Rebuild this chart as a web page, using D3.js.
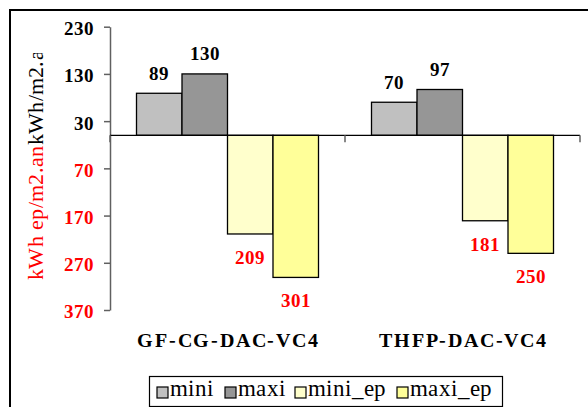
<!DOCTYPE html>
<html><head><meta charset="utf-8">
<script src="https://cdn.jsdelivr.net/npm/d3@7"></script>
<style>
@font-face{font-family:"RefSerif";font-weight:400;src:local("Liberation Serif"),local("LiberationSerif"),local("Liberation Serif Regular"),local("Times New Roman");}
@font-face{font-family:"RefSerif";font-weight:700;src:local("Liberation Serif Bold"),local("LiberationSerif-Bold"),local("Times New Roman Bold");}
</style>
</head><body style="margin:0">
<svg id="c" width="588" height="407"></svg>
<script>
// ---- data ----
const categories = ["GF-CG-DAC-VC4", "THFP-DAC-VC4"];
const seriesNames = ["mini", "maxi", "mini_ep", "maxi_ep"];
const mini = [89, 70];
const maxi = [130, 97];
const mini_ep = [209, 181];
const maxi_ep = [301, 250];
const seriesDirection = [1, 1, -1, -1]; // ep series are drawn below zero
const tickValues = [230, 130, 30, -70, -170, -270, -370];
const yTitleParts = ["kWh ep/m2.an", "kWh/m2.a"];

// ---- styles / layout ----
const seriesColors = ["#C0C0C0", "#969696", "#FFFFCC", "#FFFF99"];
const legendX = [157, 225, 295, 397];
const RED = "#FF0000";
const FONT = '"RefSerif", "Liberation Serif"';

const seriesValues = [mini, maxi, mini_ep, maxi_ep];
const svg = d3.select("#c");

// frame
svg.append("rect").attr("x", 10).attr("y", 10).attr("width", 700).attr("height", 500)
  .attr("fill", "none").attr("stroke", "#000").attr("stroke-width", 2);

const y = d3.scaleLinear().domain([-370, 230]).range([310, 26.7]);
const x0 = d3.scaleBand().domain(categories).range([110, 580]);
const groupW = 182;
const x1 = d3.scaleBand().domain(seriesNames)
  .range([(x0.bandwidth() - groupW) / 2, (x0.bandwidth() + groupW) / 2]);

// bars
const barData = [];
categories.forEach((c, i) => {
  seriesNames.forEach((s, j) => {
    barData.push({cat: c, s, j, v: seriesValues[j][i] * seriesDirection[j], raw: seriesValues[j][i]});
  });
});

svg.append("g").selectAll("rect").data(barData).join("rect")
  .attr("x", d => x0(d.cat) + x1(d.s))
  .attr("width", x1.bandwidth())
  .attr("y", d => y(Math.max(0, d.v)))
  .attr("height", d => Math.abs(y(d.v) - y(0)))
  .attr("fill", d => seriesColors[d.j])
  .attr("stroke", "#000").attr("stroke-width", 1.3);

// y axis
const yAxis = svg.append("g").attr("transform", "translate(110,0)")
  .call(d3.axisLeft(y).tickValues(tickValues).tickSize(6).tickSizeOuter(0).tickPadding(10)
    .tickFormat(d => Math.abs(d)));
yAxis.attr("font-family", null).attr("font-size", null);
yAxis.select(".domain").attr("stroke", "#606060").attr("stroke-width", 1.5);
yAxis.selectAll(".tick line").attr("stroke", "#606060").attr("stroke-width", 1.5);
yAxis.selectAll(".tick text")
  .style("font-family", FONT).style("font-weight", "bold").style("font-size", "19px")
  .attr("dy", "0.42em")
  .attr("fill", d => d > 0 ? "#000" : RED);

// category axis (zero line + ticks at band boundaries)
svg.append("line").attr("x1", x0.range()[0]).attr("x2", x0.range()[1])
  .attr("y1", y(0)).attr("y2", y(0)).attr("stroke", "#000").attr("stroke-width", 1.3);
const boundaries = categories.map(c => x0(c)).concat([x0.range()[1]]);
svg.append("g").selectAll("line").data(boundaries).join("line")
  .attr("x1", d => d).attr("x2", d => d)
  .attr("y1", y(0)).attr("y2", y(0) + 7)
  .attr("stroke", "#606060").attr("stroke-width", 1.5);

// category labels
svg.append("g").selectAll("text").data(categories).join("text")
  .attr("x", c => x0(c) + x0.bandwidth() / 2 + 1)
  .attr("y", 347)
  .attr("text-anchor", "middle")
  .style("font-family", FONT).style("font-weight", "bold").style("font-size", "20px")
  .style("letter-spacing", "1.8px")
  .attr("fill", "#000")
  .text(c => c);

// value labels
svg.append("g").selectAll("text").data(barData).join("text")
  .attr("x", d => x0(d.cat) + x1(d.s) + x1.bandwidth() / 2)
  .attr("y", d => d.v > 0 ? y(d.v) - 13.5 : y(d.v) + 30)
  .attr("text-anchor", "middle")
  .style("font-family", FONT).style("font-weight", "bold").style("font-size", "19px")
  .attr("fill", d => d.v > 0 ? "#000" : RED)
  .text(d => d.raw);

// y title (clipped at top)
svg.append("clipPath").attr("id", "tclip").append("rect")
  .attr("x", 0).attr("y", 53).attr("width", 100).attr("height", 300);
const yt = svg.append("g").attr("clip-path", "url(#tclip)")
  .append("text")
  .attr("transform", "translate(43,280) rotate(-90)")
  .style("font-family", FONT).style("font-size", "22px").style("letter-spacing", "0.3px");
yt.append("tspan").attr("fill", RED).text(yTitleParts[0]);
yt.append("tspan").attr("fill", "#000").text(yTitleParts[1]);

// legend
const lg = svg.append("g");
lg.append("rect").attr("x", 149.5).attr("y", 376.5).attr("width", 353).attr("height", 30)
  .attr("fill", "#fff").attr("stroke", "#000").attr("stroke-width", 1.2);
seriesNames.forEach((s, j) => {
  lg.append("rect").attr("x", legendX[j]).attr("y", 387).attr("width", 11).attr("height", 11)
    .attr("fill", seriesColors[j]).attr("stroke", "#000").attr("stroke-width", 1.2);
  lg.append("text").attr("x", legendX[j] + 13).attr("y", 396)
    .style("font-family", FONT).style("font-size", "23px").style("letter-spacing", "0.4px")
    .attr("fill", "#000").text(s);
});
</script>
</body></html>
